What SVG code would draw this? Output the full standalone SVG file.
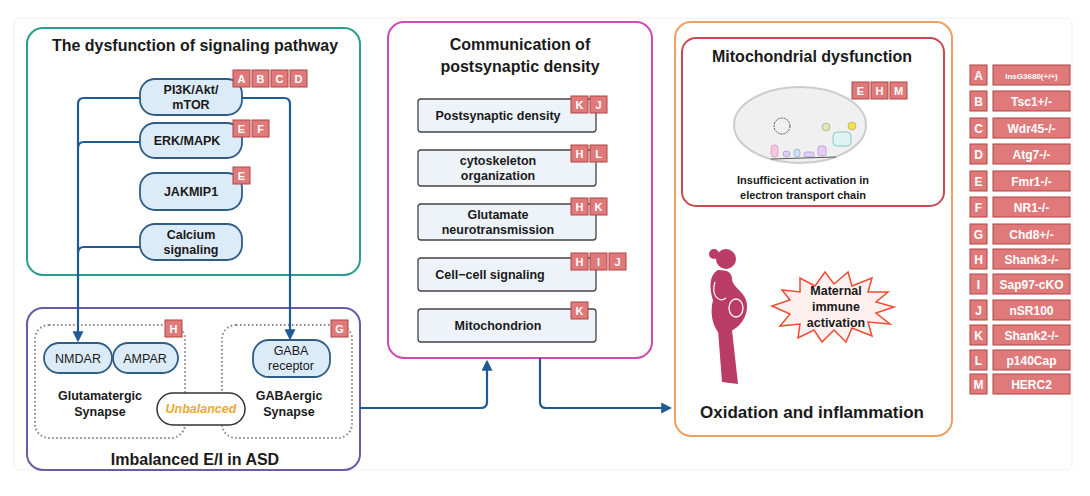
<svg xmlns="http://www.w3.org/2000/svg" width="1090" height="496" viewBox="0 0 1090 496">
<defs>
<style>
text{font-family:"Liberation Sans",Arial,sans-serif;font-weight:bold;fill:#1a1a1a}
.t{font-size:16px}
.n{font-size:12.5px;text-anchor:middle}
.pill{fill:#dcebf8;stroke:#2f5d86;stroke-width:1.8}
.box{fill:#eef3fa;stroke:#444;stroke-width:1.3}
.bd{fill:#e07a7a;stroke:#b04545;stroke-width:1}
.bt{fill:#fff;font-size:11px;text-anchor:middle;font-weight:bold}
.lg{fill:#fff;font-size:12px;text-anchor:middle;font-weight:bold}
.con{fill:none;stroke:#1f5a94;stroke-width:2.2}
.dot{fill:none;stroke:#888;stroke-width:2;stroke-dasharray:1.5 2.5}
</style>
<marker id="ar" viewBox="0 0 10 10" refX="8" refY="5" markerWidth="5" markerHeight="5" orient="auto"><path d="M0,0 L10,5 L0,10 z" fill="#1f5a94"/></marker>
</defs>
<rect x="0" y="0" width="1090" height="496" fill="#fff"/>
<rect x="14" y="18" width="1058" height="452" rx="6" fill="none" stroke="#eee"/>

<g id="signaling">
<rect x="27" y="28" width="333" height="247" rx="16" fill="#fff" stroke="#2a9d8f" stroke-width="2"/>
<text class="t" x="195" y="51" text-anchor="middle">The dysfunction of signaling pathway</text>
</g>
<g id="pi3k"><rect class="pill" x="140" y="79" width="102" height="36" rx="15"/><text class="n" x="191" y="94">PI3K/Akt/</text><text class="n" x="191" y="109">mTOR</text>
<rect class="bd" x="233" y="70" width="17" height="17"/><text class="bt" x="241.5" y="83">A</text>
<rect class="bd" x="252" y="70" width="17" height="17"/><text class="bt" x="260.5" y="83">B</text>
<rect class="bd" x="271" y="70" width="17" height="17"/><text class="bt" x="279.5" y="83">C</text>
<rect class="bd" x="290" y="70" width="17" height="17"/><text class="bt" x="298.5" y="83">D</text></g>
<g id="erk"><rect class="pill" x="140" y="123" width="102" height="35" rx="15"/><text class="n" x="187" y="145">ERK/MAPK</text>
<rect class="bd" x="233" y="120" width="17" height="17"/><text class="bt" x="241.5" y="133">E</text>
<rect class="bd" x="252" y="120" width="17" height="17"/><text class="bt" x="260.5" y="133">F</text></g>
<g id="jakmip1"><rect class="pill" x="140" y="173" width="102" height="37" rx="15"/><text class="n" x="191" y="196">JAKMIP1</text>
<rect class="bd" x="233" y="167" width="17" height="17"/><text class="bt" x="241.5" y="180">E</text></g>
<g id="calcium"><rect class="pill" x="140" y="224" width="102" height="36" rx="15"/><text class="n" x="191" y="239">Calcium</text><text class="n" x="191" y="254">signaling</text></g>

<g id="ei">
<rect x="27" y="308" width="333" height="162" rx="16" fill="#fff" stroke="#6a5aa8" stroke-width="2"/>
<rect class="dot" x="35" y="325" width="150" height="113" rx="14"/>
<rect class="dot" x="222" y="325" width="130" height="113" rx="14"/>
<rect class="bd" x="165" y="320" width="17" height="17"/><text class="bt" x="173.5" y="333">H</text>
<rect class="bd" x="331" y="320" width="17" height="17"/><text class="bt" x="339.5" y="333">G</text>
<text class="n" x="100" y="400">Glutamatergic</text><text class="n" x="100" y="416">Synapse</text>
<text class="n" x="289" y="400">GABAergic</text><text class="n" x="289" y="416">Synapse</text>
<text class="t" x="195" y="465" text-anchor="middle">Imbalanced E/I in ASD</text>
</g>
<g id="nmdar"><rect class="pill" x="44" y="343" width="68" height="30" rx="15"/><text class="n" x="78" y="363" style="font-weight:normal">NMDAR</text></g>
<g id="ampar"><rect class="pill" x="113" y="343" width="65" height="30" rx="15"/><text class="n" x="145" y="363" style="font-weight:normal">AMPAR</text></g>
<g id="gaba"><rect class="pill" x="253" y="340" width="77" height="37" rx="16"/><text class="n" x="291" y="355" style="font-weight:normal">GABA</text><text class="n" x="291" y="370" style="font-weight:normal">receptor</text></g>
<g id="unbalanced"><rect x="157" y="393" width="88" height="32" rx="16" fill="#fff" stroke="#333" stroke-width="1.5"/><text class="n" x="201" y="413" style="fill:#f0a830;font-style:italic">Unbalanced</text></g>

<g id="psd">
<rect x="388" y="22" width="264" height="336" rx="16" fill="#fff" stroke="#d04ab0" stroke-width="2"/>
<text class="t" x="520" y="50" text-anchor="middle">Communication of</text>
<text class="t" x="520" y="72" text-anchor="middle">postsynaptic density</text>
</g>
<g id="psd1"><rect class="box" x="418" y="99" width="178" height="33" rx="3"/><text class="n" x="498" y="120">Postsynaptic density</text>
<rect class="bd" x="571" y="96" width="17" height="17"/><text class="bt" x="579.5" y="109">K</text>
<rect class="bd" x="590" y="96" width="17" height="17"/><text class="bt" x="598.5" y="109">J</text></g>
<g id="psd2"><rect class="box" x="418" y="150" width="178" height="36" rx="3"/><text class="n" x="498" y="165">cytoskeleton</text><text class="n" x="498" y="180">organization</text>
<rect class="bd" x="571" y="145" width="17" height="17"/><text class="bt" x="579.5" y="158">H</text>
<rect class="bd" x="590" y="145" width="17" height="17"/><text class="bt" x="598.5" y="158">L</text></g>
<g id="psd3"><rect class="box" x="418" y="204" width="178" height="36" rx="3"/><text class="n" x="498" y="219">Glutamate</text><text class="n" x="498" y="234">neurotransmission</text>
<rect class="bd" x="571" y="198" width="17" height="17"/><text class="bt" x="579.5" y="211">H</text>
<rect class="bd" x="590" y="198" width="17" height="17"/><text class="bt" x="598.5" y="211">K</text></g>
<g id="psd4"><rect class="box" x="418" y="258" width="178" height="33" rx="3"/><text class="n" x="490" y="279">Cell−cell signaling</text>
<rect class="bd" x="571" y="253" width="17" height="17"/><text class="bt" x="579.5" y="266">H</text>
<rect class="bd" x="590" y="253" width="17" height="17"/><text class="bt" x="598.5" y="266">I</text>
<rect class="bd" x="609" y="253" width="17" height="17"/><text class="bt" x="617.5" y="266">J</text></g>
<g id="psd5"><rect class="box" x="418" y="309" width="178" height="33" rx="3"/><text class="n" x="498" y="330">Mitochondrion</text>
<rect class="bd" x="571" y="302" width="17" height="17"/><text class="bt" x="579.5" y="315">K</text></g>

<g id="oxidation">
<rect x="675" y="22" width="277" height="414" rx="16" fill="#fff" stroke="#f0a060" stroke-width="2"/>
<text class="t" x="812" y="418" text-anchor="middle" style="font-size:17px">Oxidation and inflammation</text>
</g>
<g id="mito">
<rect x="682" y="38" width="262" height="168" rx="14" fill="#fff" stroke="#c84a50" stroke-width="2"/>
<text class="t" x="812" y="62" text-anchor="middle">Mitochondrial dysfunction</text>
<ellipse cx="800" cy="125" rx="66" ry="38" fill="#f0f0f0" stroke="#ccc" stroke-width="2"/>
<ellipse cx="782" cy="126" rx="8" ry="8" fill="none" stroke="#555" stroke-dasharray="2 1"/>
<circle cx="826" cy="127" r="4" fill="#dfe8b0" stroke="#999" stroke-width="0.6"/>
<circle cx="852" cy="126" r="4" fill="#f4e040" stroke="#999" stroke-width="0.6"/>
<rect x="833" y="132" width="18" height="14" rx="4" fill="#dff3f3" stroke="#7bb" stroke-width="0.8"/>
<rect x="771" y="145" width="7" height="12" rx="3" fill="#f2c8e0" stroke="#c8a" stroke-width="0.6"/>
<rect x="783" y="151" width="7" height="6" rx="3" fill="#d8d0f0" stroke="#98c" stroke-width="0.6"/>
<rect x="794" y="149" width="6" height="8" rx="3" fill="#cfe2f8" stroke="#89b" stroke-width="0.6"/>
<rect x="804" y="152" width="10" height="5" rx="2" fill="#e0d0f8" stroke="#98c" stroke-width="0.6"/>
<rect x="818" y="146" width="8" height="10" rx="2" fill="#e6ccf0" stroke="#a8c" stroke-width="0.6"/>
<path d="M771,159 L836,157" stroke="#555" stroke-width="1" fill="none"/>
<rect class="bd" x="852" y="82" width="17" height="17"/><text class="bt" x="860.5" y="95">E</text>
<rect class="bd" x="871" y="82" width="17" height="17"/><text class="bt" x="879.5" y="95">H</text>
<rect class="bd" x="890" y="82" width="17" height="17"/><text class="bt" x="898.5" y="95">M</text>
<text class="n" x="803" y="184" style="font-size:11px">Insufficicent activation in</text>
<text class="n" x="803" y="199" style="font-size:11px">electron transport chain</text>
</g>
<g id="maternal">
<g fill="#b83c66">
<circle cx="726" cy="259" r="10"/><circle cx="714" cy="254" r="5"/>
<path d="M718,270 C708,276 710,290 713,300 C710,312 712,324 718,332 L728,332 C742,328 750,312 746,300 C742,290 734,288 732,280 C732,274 730,270 718,270 Z"/>
<path d="M718,330 L722,382 L738,384 L732,330 Z"/>
</g>
<ellipse cx="736" cy="308" rx="7" ry="9" fill="none" stroke="#fff" stroke-width="1.3"/>
<path d="M715,282 C711,294 718,304 726,298" fill="none" stroke="#fff" stroke-width="1.2"/>
<polygon points="772,306 790,300 782,290 800,292 800,278 815,286 825,272 834,284 848,272 852,286 872,278 868,292 888,292 876,302 894,307 876,313 890,324 868,322 872,336 852,328 846,342 834,330 822,342 814,330 798,338 800,324 780,326 790,314" fill="#fff0f0" stroke="#f04a30" stroke-width="1.5"/>
<text class="n" x="836" y="295">Maternal</text><text class="n" x="836" y="311">immune</text><text class="n" x="836" y="327">activation</text>
</g>

<g id="legend">
<rect class="bd" x="970" y="65" width="17" height="20"/><text class="lg" x="978.5" y="80">A</text><rect class="bd" x="993" y="65" width="77" height="20"/><text class="lg" x="1031.5" y="79" style="font-size:8px">InsG3680(+/+)</text>
<rect class="bd" x="970" y="91" width="17" height="20"/><text class="lg" x="978.5" y="106">B</text><rect class="bd" x="993" y="91" width="77" height="20"/><text class="lg" x="1031.5" y="106">Tsc1+/-</text>
<rect class="bd" x="970" y="118" width="17" height="20"/><text class="lg" x="978.5" y="133">C</text><rect class="bd" x="993" y="118" width="77" height="20"/><text class="lg" x="1031.5" y="133">Wdr45-/-</text>
<rect class="bd" x="970" y="144" width="17" height="20"/><text class="lg" x="978.5" y="159">D</text><rect class="bd" x="993" y="144" width="77" height="20"/><text class="lg" x="1031.5" y="159">Atg7-/-</text>
<rect class="bd" x="970" y="171" width="17" height="20"/><text class="lg" x="978.5" y="186">E</text><rect class="bd" x="993" y="171" width="77" height="20"/><text class="lg" x="1031.5" y="186">Fmr1-/-</text>
<rect class="bd" x="970" y="197" width="17" height="20"/><text class="lg" x="978.5" y="212">F</text><rect class="bd" x="993" y="197" width="77" height="20"/><text class="lg" x="1031.5" y="212">NR1-/-</text>
<rect class="bd" x="970" y="224" width="17" height="20"/><text class="lg" x="978.5" y="239">G</text><rect class="bd" x="993" y="224" width="77" height="20"/><text class="lg" x="1031.5" y="239">Chd8+/-</text>
<rect class="bd" x="970" y="249" width="17" height="20"/><text class="lg" x="978.5" y="264">H</text><rect class="bd" x="993" y="249" width="77" height="20"/><text class="lg" x="1031.5" y="264">Shank3-/-</text>
<rect class="bd" x="970" y="274" width="17" height="20"/><text class="lg" x="978.5" y="289">I</text><rect class="bd" x="993" y="274" width="77" height="20"/><text class="lg" x="1031.5" y="289">Sap97-cKO</text>
<rect class="bd" x="970" y="300" width="17" height="20"/><text class="lg" x="978.5" y="315">J</text><rect class="bd" x="993" y="300" width="77" height="20"/><text class="lg" x="1031.5" y="315">nSR100</text>
<rect class="bd" x="970" y="325" width="17" height="20"/><text class="lg" x="978.5" y="340">K</text><rect class="bd" x="993" y="325" width="77" height="20"/><text class="lg" x="1031.5" y="340">Shank2-/-</text>
<rect class="bd" x="970" y="350" width="17" height="20"/><text class="lg" x="978.5" y="365">L</text><rect class="bd" x="993" y="350" width="77" height="20"/><text class="lg" x="1031.5" y="365">p140Cap</text>
<rect class="bd" x="970" y="374" width="17" height="20"/><text class="lg" x="978.5" y="389">M</text><rect class="bd" x="993" y="374" width="77" height="20"/><text class="lg" x="1031.5" y="389">HERC2</text>
</g>

<g id="connectors">
<path class="con" d="M140,98 L84,98 Q78,98 78,104 L78,340" marker-end="url(#ar)"/>
<path class="con" d="M140,142 L84,142 Q78,142 78,148"/>
<path class="con" d="M140,247 L84,247 Q78,247 78,253"/>
<path class="con" d="M242,98 L284,98 Q290,98 290,104 L290,338" marker-end="url(#ar)"/>
<path class="con" d="M360,408 L481,408 Q487,408 487,402 L487,362" marker-end="url(#ar)"/>
<path class="con" d="M540,358 L540,402 Q540,408 546,408 L670,408" marker-end="url(#ar)"/>
</g>
</svg>
